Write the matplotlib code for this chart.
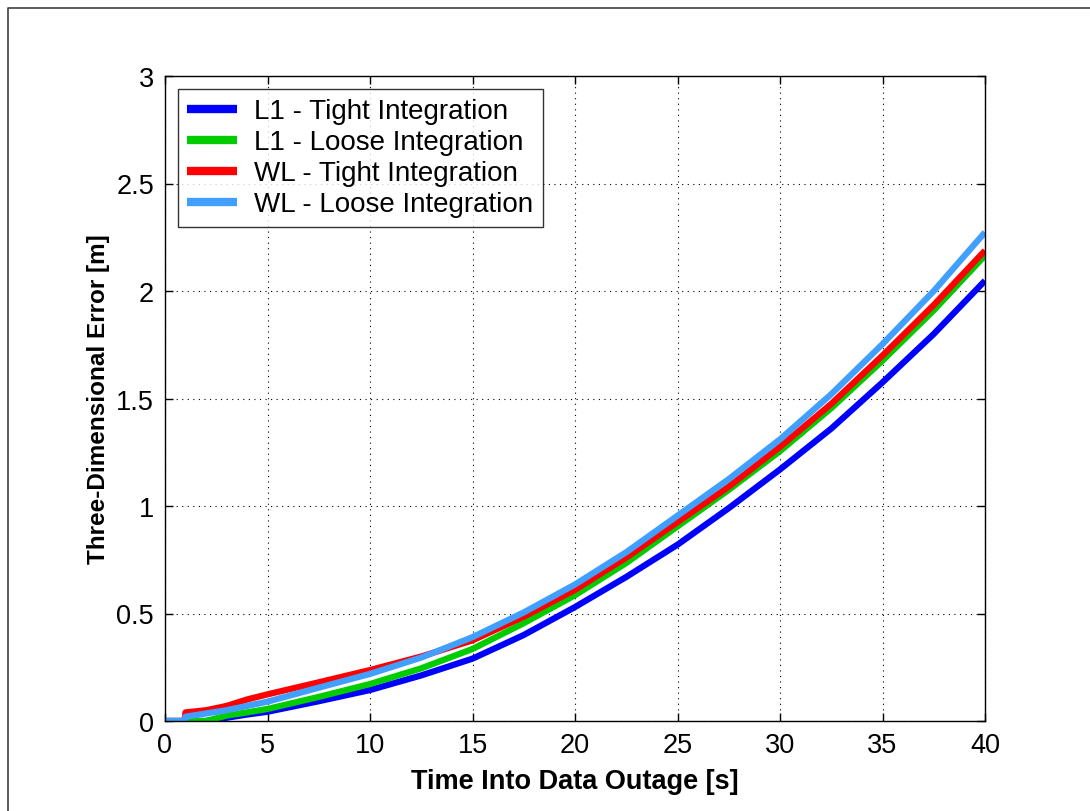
import matplotlib
matplotlib.use("Agg")
import matplotlib.pyplot as plt
from matplotlib.lines import Line2D

plt.rcParams['font.family'] = ['Liberation Sans', 'DejaVu Sans']

t = [0, 0.95, 1.0, 2, 3, 4, 5, 7.5, 10, 12.5, 15, 17.5, 20, 22.5, 25, 27.5, 30, 32.5, 35, 37.5, 40]

l1_tight = [0, 0, 0, 0, 0.015, 0.03, 0.043, 0.092, 0.144, 0.212, 0.29, 0.40, 0.53, 0.67, 0.82, 0.99, 1.17, 1.36, 1.575, 1.80, 2.048]
l1_loose = [0, 0, 0, 0, 0.025, 0.04, 0.056, 0.112, 0.172, 0.245, 0.335, 0.455, 0.585, 0.735, 0.905, 1.075, 1.255, 1.455, 1.676, 1.91, 2.165]
wl_tight = [0, 0, 0.04, 0.05, 0.07, 0.10, 0.124, 0.18, 0.237, 0.30, 0.375, 0.485, 0.61, 0.76, 0.925, 1.09, 1.275, 1.475, 1.70, 1.935, 2.188]
wl_loose = [0, 0, 0.02, 0.035, 0.05, 0.07, 0.09, 0.155, 0.219, 0.295, 0.39, 0.505, 0.635, 0.785, 0.955, 1.125, 1.31, 1.52, 1.753, 2.00, 2.273]

series = [
    ("L1 - Tight Integration", l1_tight, "#0000FF"),
    ("L1 - Loose Integration", l1_loose, "#00CC00"),
    ("WL - Tight Integration", wl_tight, "#FF0000"),
    ("WL - Loose Integration", wl_loose, "#409FFF"),
]

fig = plt.figure(figsize=(10.9, 8.12), dpi=100)
ax = fig.add_axes([165/1090, 1-722/812, (985-165)/1090, (722-77)/812])

for label, vals, col in series:
    ax.plot(t, vals, color=col, lw=4.5, label=label, solid_capstyle='butt')

ax.set_xlim(0, 40)
ax.set_ylim(0, 3)
ax.set_xticks(range(0, 41, 5))
ax.set_yticks([0, 0.5, 1, 1.5, 2, 2.5, 3])
ax.set_yticklabels(["0", "0.5", "1", "1.5", "2", "2.5", "3"])
ax.grid(True, color='black', linestyle=(0, (1, 4)), linewidth=0.8)
ax.tick_params(direction='in', top=True, right=True, labelsize=19.5, length=6, width=1, pad=8)
for s in ax.spines.values():
    s.set_linewidth(1.0)

ax.set_xlabel("Time Into Data Outage [s]", fontsize=19.5, fontweight='bold', labelpad=7)
ax.set_ylabel("Three-Dimensional Error [m]", fontsize=17.5, fontweight='bold', labelpad=4)

leg = ax.legend(loc='upper left', fontsize=20, frameon=True, fancybox=False,
                handlelength=1.8, handletextpad=0.6, labelspacing=0.18,
                borderpad=0.35, borderaxespad=0.45)
leg.get_frame().set_edgecolor('black')
leg.get_frame().set_linewidth(1.0)
for h in leg.get_lines():
    h.set_linewidth(6)

# figure border (left and top edges)
fig.add_artist(Line2D([8/1090, 8/1090, 1.0], [0.0, 1-9/812, 1-9/812],
                      transform=fig.transFigure, color='#404040', lw=1.2))

fig.savefig("out.png", dpi=100)
